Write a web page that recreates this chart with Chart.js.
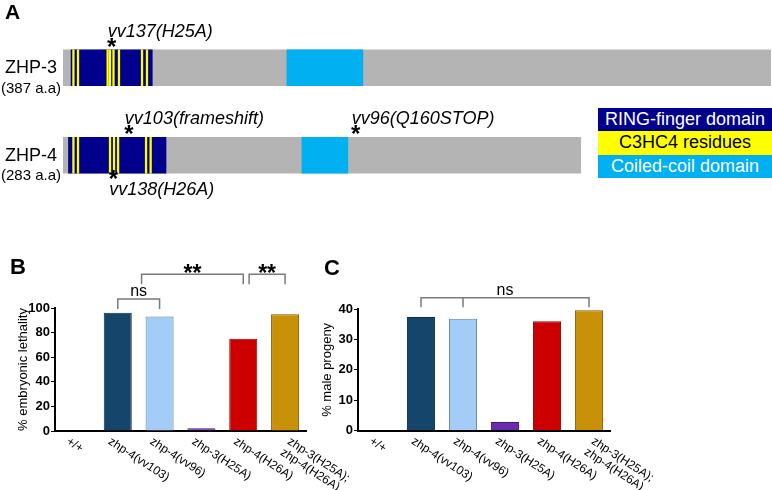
<!DOCTYPE html>
<html>
<head>
<meta charset="utf-8">
<script src="https://cdn.jsdelivr.net/npm/chart.js@4.4.1/dist/chart.umd.min.js"></script>
<style>
html, body { margin: 0; padding: 0; background: #fff; }
body { width: 772px; height: 490px; position: relative; overflow: hidden; font-family: "Liberation Sans", Arial, sans-serif; }
canvas { position: absolute; }
#cA { left: 0; top: 0; }
#cB { left: 0; top: 240px; }
#cC { left: 320px; top: 240px; }
.legend { position: absolute; left: 598px; top: 108px; width: 174px; }
.legend div { height: 23.4px; line-height: 23.4px; text-align: center; font-size: 18px; }
</style>
</head>
<body>
<canvas id="cA" width="772" height="200"></canvas>
<canvas id="cB" width="390" height="250"></canvas>
<canvas id="cC" width="452" height="250"></canvas>
<div class="legend">
    <div style="background:#00008c;color:#fff">RING-finger domain</div>
    <div style="background:#ffff00;color:#000">C3HC4 residues</div>
    <div style="background:#00b0f0;color:#fff">Coiled-coil domain</div>
</div>
<script>
const FONT = '"Liberation Sans", Arial, sans-serif';
Chart.defaults.font.family = FONT;
Chart.defaults.color = "#000";

// panel A: protein maps (amino-acid positions)
const PROTEINS       = ["ZHP-3", "ZHP-4"];
const PROTEIN_SIZES  = ["(387 a.a)", "(283 a.a)"];
const LENGTHS        = [387, 283];
const RING           = [[4.4, 48.8], [3.0, 56.3]];
const COILED         = [[122.4, 163.9], [130.6, 155.7]];
const C3HC4_ZHP3     = [5.7, 8.2, 24.4, 25.7, 27.6, 30.6, 43.2, 45.9];
const C3HC4_ZHP4     = [5.7, 8.2, 25.7, 27.9, 30.1, 45.4, 47.9];
const MUT_PROTEIN    = [0, 1, 1, 1];
const MUT_POS        = [26.6, 36, 160, 27.5];
const MUT_LABEL      = ["vv137(H25A)", "vv103(frameshift)", "vv96(Q160STOP)", "vv138(H26A)"];
const MUT_SIDE       = ["above", "above", "above", "below"];

// panels B and C
const GENOTYPES  = ["+/+", "zhp-4(vv103)", "zhp-4(vv96)", "zhp-3(H25A)", "zhp-4(H26A)", ["zhp-3(H25A);", "zhp-4(H26A)"]];
const LETHALITY  = [0, 96.2, 93, 2.2, 75, 95];
const MALES      = [0, 37.4, 36.8, 2.9, 36, 39.6];
const B_BRACKETS = [
    { from: 1, to: 2, top: 107.3, foot: 99.2, text: "ns" },
    { from: 1.57, to: 4, top: 127.4, foot: 119.3, text: "**" },
    { from: 4.14, to: 5, top: 127.4, foot: 119.3, text: "**" },
];
const C_BRACKETS = [
    { from: 1, to: 5, ticks: [2], top: 43.7, foot: 40.6, text: "ns" },
];

const C = {
    navy: "#00008c", yellow: "#ffff00", cyan: "#00b0f0", gray: "#b4b4b4",
    bars:    ["rgba(0,0,0,0)", "#16456b", "#a3cdf7", "#6b2bb0", "#cc0000", "#c99108"],
    borders: ["rgba(0,0,0,0)", "#0c2c46", "#5d7f9e", "#3c1870", "#8c0000", "#7d5c0c"],
};

// ---------- panel A ----------
const aSets = [];
for (let k = 0; k < C3HC4_ZHP3.length; k++) {
    const p3 = C3HC4_ZHP3[k], p4 = C3HC4_ZHP4[k];
    aSets.push({
        data: [[p3 - 0.45, p3 + 0.45], p4 == null ? null : [p4 - 0.45, p4 + 0.45]],
        backgroundColor: C.yellow,
    });
}
aSets.push({ data: RING, backgroundColor: C.navy });
aSets.push({ data: COILED, backgroundColor: C.cyan });
aSets.push({ data: LENGTHS.map(l => [0, l]), backgroundColor: C.gray });
aSets.forEach(d => { d.grouped = false; d.barThickness = 36; d.borderWidth = 0; });

const mapLabels = {
    id: "mapLabels",
    afterDatasetsDraw(chart) {
        const ctx = chart.ctx, xs = chart.scales.x, ys = chart.scales.y;
        ctx.save();
        ctx.fillStyle = "#000";
        ctx.font = "bold 21px " + FONT;
        ctx.textAlign = "left";
        ctx.textBaseline = "alphabetic";
        ctx.fillText("A", 5, 18.5);

        ctx.textAlign = "center";
        ctx.textBaseline = "middle";
        PROTEINS.forEach((p, i) => {
            const cy = ys.getPixelForValue(i);
            ctx.font = "18px " + FONT;
            ctx.fillText(p, 31, cy + 0.5);
            ctx.font = "15px " + FONT;
            ctx.fillText(PROTEIN_SIZES[i], 31, cy + 21);
        });

        MUT_POS.forEach((aa, i) => {
            const cy = ys.getPixelForValue(MUT_PROTEIN[i]);
            const x = xs.getPixelForValue(aa);
            const up = MUT_SIDE[i] === "above";
            const starY = up ? cy - 18 - 5 : cy + 18 + 4;
            const textY = up ? cy - 18 - 18 : cy + 18 + 17;
            ctx.textAlign = "center";
            ctx.textBaseline = "alphabetic";
            ctx.font = "bold 24px " + FONT;
            ctx.fillText("*", x, starY + 10);
            ctx.textAlign = "left";
            ctx.textBaseline = "middle";
            ctx.font = "italic 18px " + FONT;
            ctx.fillText(MUT_LABEL[i], x - 4, textY);
        });
        ctx.restore();
    }
};

new Chart(document.getElementById("cA"), {
    type: "bar",
    data: { labels: PROTEINS, datasets: aSets },
    options: {
        indexAxis: "y",
        responsive: false,
        animation: false,
        devicePixelRatio: 1,
        layout: { padding: { left: 63, right: 1, top: 24, bottom: 1 } },
        plugins: { legend: { display: false }, tooltip: { enabled: false } },
        scales: {
            x: { type: "linear", min: 0, max: 387, display: false },
            y: { display: false },
        },
    },
    plugins: [mapLabels],
});

// ---------- panels B and C ----------
const LABEL_ANGLE = 33;

function drawXLabels(chart) {
    const ctx = chart.ctx, xs = chart.scales.x, axisY = chart.chartArea.bottom;
    const th = LABEL_ANGLE * Math.PI / 180, lh = 13;
    ctx.save();
    ctx.font = "12px " + FONT;
    ctx.fillStyle = "#000";
    ctx.textAlign = "left";
    ctx.textBaseline = "middle";
    chart.data.labels.forEach((lab, i) => {
        const lines = [].concat(lab);
        const H = lines.length * lh;
        const cx = xs.getPixelForTick(i);
        const sy = axisY + 4 + H / 2 * Math.cos(th);
        const sx = cx - 23 + (sy - axisY) / Math.tan(th);
        lines.forEach((t, k) => {
            const off = (k + 0.5) * lh - H / 2;
            ctx.save();
            ctx.translate(sx - off * Math.sin(th), sy + off * Math.cos(th));
            ctx.rotate(th);
            ctx.fillText(t, 0, 0);
            ctx.restore();
        });
    });
    ctx.restore();
}

function drawBrackets(chart, list) {
    const ctx = chart.ctx, xs = chart.scales.x, ys = chart.scales.y;
    ctx.save();
    ctx.strokeStyle = "#7a7a7a";
    ctx.lineWidth = 1.5;
    ctx.fillStyle = "#000";
    ctx.textAlign = "center";
    ctx.textBaseline = "alphabetic";
    list.forEach(b => {
        const x1 = xs.getPixelForValue(b.from), x2 = xs.getPixelForValue(b.to);
        const yt = ys.getPixelForValue(b.top), yf = ys.getPixelForValue(b.foot);
        ctx.beginPath();
        ctx.moveTo(x1, yf); ctx.lineTo(x1, yt); ctx.lineTo(x2, yt); ctx.lineTo(x2, yf);
        (b.ticks || []).forEach(t => {
            const xt = xs.getPixelForValue(t);
            ctx.moveTo(xt, yt); ctx.lineTo(xt, yf);
        });
        ctx.stroke();
        const mx = (x1 + x2) / 2;
        if (b.text === "ns") {
            ctx.font = "16px " + FONT;
            ctx.fillText(b.text, mx, yt - 3);
        } else {
            ctx.font = "bold 23px " + FONT;
            ctx.fillText(b.text, mx, yt + 7);
        }
    });
    ctx.restore();
}

function decor(letter, lx, ly, brackets) {
    return {
        id: "decor",
        afterDraw(chart) {
            drawXLabels(chart);
            drawBrackets(chart, brackets);
            const ctx = chart.ctx;
            ctx.save();
            ctx.font = "bold 22px " + FONT;
            ctx.fillStyle = "#000";
            ctx.textBaseline = "alphabetic";
            ctx.fillText(letter, lx, ly);
            ctx.restore();
        }
    };
}

function panel(id, values, max, step, title, yWidth, titlePad, pad, xHeight, plugin) {
    new Chart(document.getElementById(id), {
        type: "bar",
        data: {
            labels: GENOTYPES,
            datasets: [{
                data: values,
                backgroundColor: C.bars,
                borderColor: C.borders,
                borderWidth: 1,
                barPercentage: 0.67,
                categoryPercentage: 1,
            }],
        },
        options: {
            responsive: false,
            animation: false,
            devicePixelRatio: 1,
            layout: { padding: pad },
            plugins: { legend: { display: false }, tooltip: { enabled: false } },
            scales: {
                x: {
                    grid: { display: false },
                    ticks: { display: false },
                    border: { color: "#000", width: 2 },
                    afterFit: s => { s.height = xHeight; },
                },
                y: {
                    min: 0, max: max,
                    ticks: {
                        stepSize: step,
                        callback: v => (v % (step * 2) === 0 ? v : ""),
                        font: { size: 13, weight: "bold" },
                        color: "#000",
                        padding: 1,
                    },
                    grid: { drawOnChartArea: false, tickLength: 4, color: "#000", tickWidth: 1 },
                    border: { color: "#000", width: 2 },
                    title: { display: true, text: title, font: { size: 13 }, color: "#000", padding: { top: titlePad, bottom: 0 } },
                    afterFit: s => { s.width = yWidth; },
                },
            },
        },
        plugins: [plugin],
    });
}

panel("cB", LETHALITY, 100, 10, "% embryonic lethality", 55, 16,
      { top: 68, right: 84, left: 0, bottom: 0 }, 59, decor("B", 10, 33.5, B_BRACKETS));
panel("cC", MALES, 40, 5, "% male progeny", 38, 0,
      { top: 69, right: 162, left: 0, bottom: 0 }, 59.3, decor("C", 4, 35, C_BRACKETS));
</script>
</body>
</html>
